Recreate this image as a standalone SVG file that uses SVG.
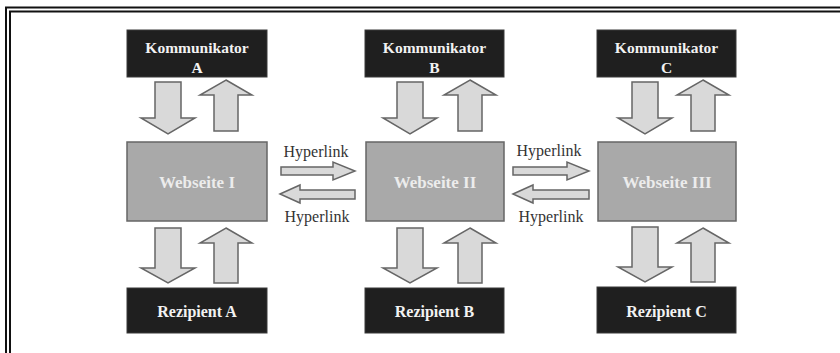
<svg xmlns="http://www.w3.org/2000/svg" width="840" height="353" viewBox="0 0 840 353">
<style>
.dark{fill:#1f1f1f;stroke:#3a3a3a;stroke-width:1}
.web{fill:#a9a9a9;stroke:#666;stroke-width:1.5}
.lbl{font-family:"Liberation Serif","Times New Roman",serif;font-weight:bold;fill:#f2f2f2;text-anchor:middle}
.k{font-size:15.5px}
.w{font-size:17px;fill:#ececec}
.r{font-size:16px}
.arr{fill:#d9d9d9;stroke:#666;stroke-width:1.5;stroke-linejoin:miter}
.hl{font-family:"Liberation Serif","Times New Roman",serif;font-size:16px;fill:#333;text-anchor:middle}
.frame{stroke:#111;stroke-width:2;fill:none}
</style>
<rect width="840" height="353" fill="#fff"/>
<g id="frame">
<path class="frame" d="M6,353 V7.5 H840"/>
<path class="frame" d="M10,353 V11.5 H840"/>
</g>
<g id="kommunikator-a"><rect class="dark" x="127" y="30" width="140" height="47"/><text class="lbl k" x="197" y="53">Kommunikator</text><text class="lbl k" x="197" y="73">A</text></g>
<g id="kommunikator-b"><rect class="dark" x="365" y="30" width="139" height="47"/><text class="lbl k" x="434.5" y="53">Kommunikator</text><text class="lbl k" x="434.5" y="73">B</text></g>
<g id="kommunikator-c"><rect class="dark" x="597" y="30" width="139" height="47"/><text class="lbl k" x="666.5" y="53">Kommunikator</text><text class="lbl k" x="666.5" y="73">C</text></g>
<g id="webseite-1"><rect class="web" x="127" y="142" width="140" height="79"/><text class="lbl w" x="197" y="188">Webseite I</text></g>
<g id="webseite-2"><rect class="web" x="366" y="142" width="138" height="79"/><text class="lbl w" x="435" y="188">Webseite II</text></g>
<g id="webseite-3"><rect class="web" x="598" y="142" width="138" height="79"/><text class="lbl w" x="667" y="188">Webseite III</text></g>
<g id="rezipient-a"><rect class="dark" x="127" y="288" width="140" height="45"/><text class="lbl r" x="197" y="317">Rezipient A</text></g>
<g id="rezipient-b"><rect class="dark" x="365" y="288" width="139" height="45"/><text class="lbl r" x="434.5" y="317">Rezipient B</text></g>
<g id="rezipient-c"><rect class="dark" x="597" y="287" width="139" height="46"/><text class="lbl r" x="666.5" y="317">Rezipient C</text></g>
<g id="connectors">
<!-- column A top -->
<polygon class="arr" points="155,82 181,82 181,118 195,118 168,134 141,118 155,118"/>
<polygon class="arr" points="226,80 252,95 238,95 238,131 214,131 214,95 200,95"/>
<!-- column A bottom -->
<polygon class="arr" points="155,228 181,228 181,268 195,268 168,283 141,268 155,268"/>
<polygon class="arr" points="226,228 252,243 238,243 238,283 214,283 214,243 200,243"/>
<!-- column B top -->
<polygon class="arr" points="397,82 423,82 423,118 437,118 410,134 383,118 397,118"/>
<polygon class="arr" points="470,80 496,95 482,95 482,131 458,131 458,95 444,95"/>
<!-- column B bottom -->
<polygon class="arr" points="397,228 423,228 423,268 437,268 410,283 383,268 397,268"/>
<polygon class="arr" points="470,228 496,243 482,243 482,283 458,283 458,243 444,243"/>
<!-- column C top -->
<polygon class="arr" points="632,82 658,82 658,118 672,118 645,134 618,118 632,118"/>
<polygon class="arr" points="703,80 729,95 715,95 715,131 691,131 691,95 677,95"/>
<!-- column C bottom -->
<polygon class="arr" points="632,227 658,227 658,267 672,267 645,282 618,267 632,267"/>
<polygon class="arr" points="703,228 729,243 715,243 715,282 691,282 691,243 677,243"/>
<!-- hyperlinks I <-> II -->
<polygon class="arr" points="281,167 333,167 333,162 355,171 333,180 333,175 281,175"/>
<polygon class="arr" points="280,194 300,185 300,190 355,190 355,199 300,199 300,203"/>
<text class="hl" x="316" y="157">Hyperlink</text>
<text class="hl" x="317" y="222">Hyperlink</text>
<!-- hyperlinks II <-> III -->
<polygon class="arr" points="513,167 567,167 567,162 589,171 567,180 567,175 513,175"/>
<polygon class="arr" points="513,194 533,185 533,190 589,190 589,199 533,199 533,203"/>
<text class="hl" x="549" y="156">Hyperlink</text>
<text class="hl" x="551" y="222">Hyperlink</text>
</g>
</svg>
